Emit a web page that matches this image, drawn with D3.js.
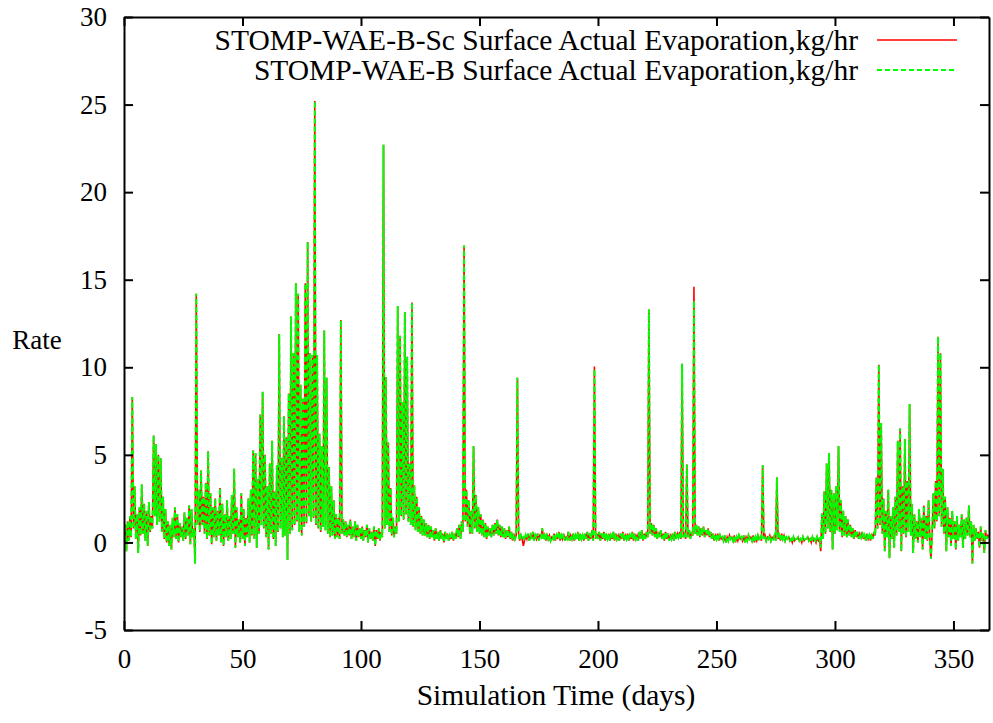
<!DOCTYPE html>
<html>
<head>
<meta charset="utf-8">
<script src="https://cdn.jsdelivr.net/npm/d3@7"></script>
<style>
  body { margin: 0; background: #fff; }
  .axis path, .axis line { stroke: #000; stroke-width: 2px; }
  .sc-line { fill: none; stroke: #ff0000; stroke-width: 1.6px; }
  .b-line { fill: none; stroke: #00ff00; stroke-width: 2px; stroke-dasharray: 5,3; }
</style>
</head>
<body>
<script>
var font_name = "'Liberation Serif'";

// Series labels
var series_names = [
  'STOMP-WAE-B-Sc Surface Actual Evaporation,kg/hr',
  'STOMP-WAE-B Surface Actual Evaporation,kg/hr'
];

// Tick values for both axes
var x_ticks = [0, 50, 100, 150, 200, 250, 300, 350];
var y_ticks = [-5, 0, 5, 10, 15, 20, 25, 30];

// Sample spacing in days for the rate arrays
var day_step = 0.5;

// STOMP-WAE-B rate, one value every half day (each row is 5 days)
var wae_b = [
  0.2, 1.0, -0.5, 1.2, 0.1, 1.5, 0.3, 8.3, 0.8, 3.2,        // 0
  0.2, 1.6, -0.6, 2.0, 0.4, 3.3, 0.5, 2.2, 0.1, 1.8,        // 5
  -0.2, 2.3, 0.6, 1.5, 0.8, 6.1, 1.5, 5.6, 1.0, 5.0,        // 10
  1.2, 4.8, 0.6, 2.6, 0.2, 1.9, 0.0, 1.2, -0.2, 1.0,        // 15
  -0.4, 1.4, 0.3, 2.0, 0.2, 1.6, 0.0, 1.1, 0.3, 0.9,        // 20
  0.1, 1.7, 0.2, 1.4, 0.4, 2.1, -0.1, 1.9, 0.3, 0.8,        // 25
  -1.2, 14.2, 1.0, 3.0, 0.6, 4.1, 1.0, 2.6, 0.5, 3.4,       // 30
  0.2, 5.2, 0.4, 2.8, -0.1, 2.0, 0.3, 2.5, 0.1, 1.8,        // 35
  0.4, 3.1, 0.0, 2.2, -0.2, 1.6, 0.3, 2.4, 0.1, 1.5,        // 40
  0.2, 2.7, 0.5, 4.2, -0.3, 2.0, 0.3, 1.3, 0.0, 2.8,        // 45
  0.2, 1.9, -0.2, 1.4, 0.3, 2.5, 0.0, 3.0, 0.4, 5.25,       // 50
  0.2, 5.1, -0.3, 3.6, 0.5, 7.3, 1.0, 8.6, 0.8, 5.0,        // 55
  0.3, 3.2, -0.4, 4.5, 0.5, 5.8, 0.2, 2.9, -0.2, 4.4,       // 60
  0.6, 11.9, 0.8, 4.8, 0.3, 7.2, 0.4, 6.0, -1.0, 8.5,       // 65
  0.5, 12.9, 0.7, 10.8, 1.0, 14.8, 1.2, 14.2, 0.6, 9.0,     // 70
  0.4, 8.2, 0.9, 14.8, 1.1, 17.15, 1.5, 10.8, 1.2, 10.7,    // 75
  1.4, 25.2, 1.0, 10.7, 0.8, 6.2, 0.6, 5.5, 0.9, 12.1,      // 80
  0.7, 9.4, 0.5, 4.3, 0.3, 3.2, 0.4, 2.4, 0.2, 1.6,         // 85
  0.3, 1.4, 0.2, 12.7, 0.5, 1.3, 0.4, 1.2, 0.3, 1.0,        // 90
  0.4, 1.3, 0.2, 0.9, 0.3, 1.2, 0.1, 1.0, 0.3, 0.8,         // 95
  0.2, 0.9, 0.1, 0.7, 0.3, 1.0, 0.0, 0.8, 0.2, 0.6,         // 100
  0.1, 0.9, -0.2, 0.7, 0.2, 0.8, 0.1, 0.6, 0.3, 22.7,       // 105
  0.8, 9.45, 1.0, 5.7, 0.6, 3.1, 0.4, 1.4, 0.3, 0.9,        // 110
  0.5, 13.5, 1.2, 11.8, 1.5, 8.0, 1.3, 13.15, 1.6, 10.6,    // 115
  1.2, 4.5, 1.0, 13.7, 0.9, 3.25, 0.7, 2.6, 0.6, 2.0,       // 120
  0.5, 1.5, 0.4, 1.3, 0.4, 1.1, 0.3, 1.0, 0.2, 0.9,         // 125
  0.3, 0.7, 0.1, 0.8, 0.2, 0.6, 0.1, 0.7, 0.2, 0.5,         // 130
  0.0, 0.6, 0.2, 0.5, 0.1, 0.4, 0.2, 0.6, 0.1, 0.5,         // 135
  0.2, 0.8, 0.3, 1.0, 0.2, 1.2, 0.6, 16.96, 1.2, 3.0,       // 140
  0.9, 2.4, 0.5, 1.8, 0.5, 5.5, 0.8, 2.7, 0.6, 2.0,         // 145
  0.5, 1.6, 0.4, 1.3, 0.3, 1.1, 0.2, 0.9, 0.4, 0.8,         // 150
  0.3, 1.0, 0.4, 1.1, 0.5, 1.3, 0.4, 1.0, 0.3, 0.9,         // 155
  0.3, 0.8, 0.2, 0.7, 0.3, 0.9, 0.2, 0.6, 0.1, 0.5,         // 160
  0.2, 0.4, 9.4, 0.5, 0.1, 0.4, 0.2, 0.3, 0.1, 0.4,         // 165
  0.2, 0.5, 0.1, 0.4, 0.2, 0.6, 0.1, 0.4, 0.2, 0.5,         // 170
  0.1, 0.4, 0.3, 0.8, 0.2, 0.4, 0.1, 0.5, 0.2, 0.4,         // 175
  0.1, 0.3, 0.2, 0.5, 0.1, 0.4, 0.2, 0.6, 0.1, 0.4,         // 180
  0.2, 0.5, 0.1, 0.3, 0.2, 0.6, 0.1, 0.4, 0.2, 0.5,         // 185
  0.1, 0.4, 0.2, 0.6, 0.1, 0.5, 0.2, 0.4, 0.1, 0.5,         // 190
  0.2, 0.6, 0.1, 0.5, 0.2, 0.7, 0.1, 9.9, 0.2, 0.5,         // 195
  0.2, 0.6, 0.1, 0.5, 0.2, 0.6, 0.1, 0.4, 0.2, 0.5,         // 200
  0.1, 0.4, 0.2, 0.6, 0.1, 0.5, 0.2, 0.4, 0.1, 0.5,         // 205
  0.2, 0.6, 0.1, 0.4, 0.2, 0.5, 0.1, 0.4, 0.2, 0.6,         // 210
  0.1, 0.5, 0.2, 0.4, 0.1, 0.6, 0.2, 0.7, 0.1, 0.5,         // 215
  0.2, 0.6, 0.3, 13.3, 0.5, 1.1, 0.4, 1.0, 0.3, 0.8,        // 220
  0.2, 0.6, 0.3, 0.7, 0.2, 0.5, 0.1, 0.6, 0.2, 0.5,         // 225
  0.1, 0.4, 0.2, 0.5, 0.1, 0.6, 0.2, 0.5, 0.3, 0.6,         // 230
  0.2, 10.2, 0.3, 0.6, 0.2, 4.45, 0.3, 0.7, 0.2, 0.6,       // 235
  0.4, 13.8, 0.5, 1.0, 0.4, 0.9, 0.3, 0.8, 0.4, 0.9,        // 240
  0.3, 0.7, 0.4, 0.8, 0.3, 0.6, 0.2, 0.5, 0.1, 0.4,         // 245
  0.2, 0.5, 0.1, 0.4, 0.2, 0.3, 0.1, 0.4, 0.0, 0.3,         // 250
  0.1, 0.4, 0.2, 0.3, 0.1, 0.4, 0.0, 0.3, 0.1, 0.4,         // 255
  0.2, 0.3, 0.1, 0.4, 0.0, 0.3, 0.1, 0.4, 0.2, 0.3,         // 260
  0.1, 0.4, 0.0, 0.3, 0.1, 0.4, 0.2, 0.3, 0.1, 4.4,         // 265
  0.2, 0.4, 0.1, 0.3, 0.2, 0.4, 0.1, 0.3, 0.2, 0.4,         // 270
  0.1, 3.7, 0.2, 0.4, 0.1, 0.5, 0.2, 0.4, 0.1, 0.3,         // 275
  0.2, 0.3, 0.1, 0.2, 0.0, 0.3, 0.1, 0.2, 0.2, 0.3,         // 280
  0.1, 0.2, 0.0, 0.3, 0.1, 0.2, 0.2, 0.3, 0.1, 0.2,         // 285
  0.0, 0.3, 0.1, 0.2, 0.0, 0.3, 0.1, 0.2, -0.3, 1.65,       // 290
  0.2, 2.9, 0.5, 4.5, 0.8, 5.1, 0.6, 3.0, -0.4, 2.8,        // 295
  0.5, 3.2, 0.7, 5.5, 0.6, 2.4, 0.3, 1.8, 0.4, 1.5,         // 300
  0.3, 1.3, 0.4, 1.0, 0.3, 0.8, 0.2, 0.7, 0.3, 0.6,         // 305
  0.2, 0.5, 0.3, 0.6, 0.2, 0.4, 0.1, 0.5, 0.2, 0.4,         // 310
  0.1, 0.5, 0.2, 0.6, 0.4, 3.7, 0.8, 10.15, 1.0, 6.8,       // 315
  0.5, 2.5, -0.5, 1.8, 0.3, 3.0, -0.9, 1.5, 0.2, 2.0,       // 320
  -0.3, 2.6, 0.4, 5.8, 0.6, 6.5, -0.5, 3.2, 0.5, 5.9,       // 325
  0.3, 3.5, 0.6, 7.9, 0.4, 2.2, -0.6, 1.6, 0.2, 1.2,        // 330
  0.0, 1.9, 0.3, 1.4, -0.4, 2.1, 0.2, 1.5, 0.1, 2.4,        // 335
  0.3, -0.95, 0.5, 2.8, 0.8, 3.5, 1.2, 11.75, 1.5, 10.8,    // 340
  0.9, 4.2, 0.5, 2.6, -0.5, 2.0, 0.3, 1.4, -0.2, 1.8,       // 345
  0.2, 1.2, -0.4, 1.5, 0.1, 1.0, 0.3, 1.6, -0.3, 1.3,       // 350
  0.2, 1.4, 0.4, 2.1, 0.3, 1.2, -1.2, 1.0, 0.1, 0.8,        // 355
  0.2, 0.6, -0.3, 0.9, 0.1, 0.5, -0.6, 0.7, 0.2, 0.4,       // 360
  0.3                                                       // 365
];

// STOMP-WAE-B-Sc follows the same curve except at these [day, rate] samples
var sc_diff = [[168.5, -0.2], [198.5, 10.05], [240.5, 14.6], [294, -0.5]];

// Build the [day, rate] points for both series
var b_points = wae_b.map(function(v, i) { return [i * day_step, v]; });
var sc_points = b_points.map(function(p) { return [p[0], p[1]]; });
for (var k = 0; k < sc_diff.length; k++) {
  sc_points[Math.round(sc_diff[k][0] / day_step)][1] = sc_diff[k][1];
}

// SVG size and plot box
var svg_width = 993;
var svg_height = 723;
var plot_left = 124;
var plot_right = 989;
var plot_top = 17;
var plot_bottom = 630;
var tick_len = 9;
var tick_font = '27px';
var label_font = '29.5px';

var svg = d3.select('body').append('svg')
  .attr('width', svg_width)
  .attr('height', svg_height);

var x = d3.scaleLinear().domain([0, 365]).range([plot_left, plot_right]);
var y = d3.scaleLinear().domain([-5, 30]).range([plot_bottom, plot_top]);

// Clip the curves to the plot box
svg.append('clipPath').attr('id', 'plot-clip')
  .append('rect')
  .attr('x', plot_left).attr('y', plot_top)
  .attr('width', plot_right - plot_left).attr('height', plot_bottom - plot_top);

var line = d3.line()
  .x(function(d) { return x(d[0]); })
  .y(function(d) { return y(d[1]); });

svg.append('path')
  .datum(sc_points)
  .attr('class', 'sc-line')
  .attr('clip-path', 'url(#plot-clip)')
  .attr('d', line);

svg.append('path')
  .datum(b_points)
  .attr('class', 'b-line')
  .attr('clip-path', 'url(#plot-clip)')
  .attr('d', line);

// Plain hyphen for negatives, like the original
var plain = function(d) { return String(d); };

// Axes: ticks point inward on all four sides
var axes = [
  svg.append('g')
    .attr('transform', 'translate(0,' + plot_bottom + ')')
    .call(d3.axisBottom(x).tickValues(x_ticks).tickFormat(plain).tickSize(-tick_len).tickSizeOuter(0).tickPadding(19)),
  svg.append('g')
    .attr('transform', 'translate(0,' + plot_top + ')')
    .call(d3.axisTop(x).tickValues(x_ticks).tickSize(-tick_len).tickSizeOuter(0).tickFormat('')),
  svg.append('g')
    .attr('transform', 'translate(' + plot_left + ',0)')
    .call(d3.axisLeft(y).tickValues(y_ticks).tickFormat(plain).tickSize(-tick_len).tickSizeOuter(0).tickPadding(17)),
  svg.append('g')
    .attr('transform', 'translate(' + plot_right + ',0)')
    .call(d3.axisRight(y).tickValues(y_ticks).tickSize(-tick_len).tickSizeOuter(0).tickFormat(''))
];
axes.forEach(function(g) {
  g.attr('class', 'axis');
  g.selectAll('text')
    .attr('fill', '#000')
    .style('font-family', font_name)
    .style('font-size', tick_font);
});

// Axis titles
svg.append('text')
  .attr('x', 556)
  .attr('y', 705)
  .attr('text-anchor', 'middle')
  .style('font-family', font_name)
  .style('font-size', label_font)
  .text('Simulation Time (days)');

svg.append('text')
  .attr('x', 37)
  .attr('y', 349)
  .attr('text-anchor', 'middle')
  .style('font-family', font_name)
  .style('font-size', tick_font)
  .text('Rate');

// Legend in the top right corner
var legend_rows = [40, 70];
var legend_class = ['sc-line', 'b-line'];

svg.selectAll('text.legend-text')
  .data(series_names)
  .enter()
  .append('text')
  .attr('class', 'legend-text')
  .attr('x', 858)
  .attr('y', function(d, i) { return legend_rows[i] + 10; })
  .attr('text-anchor', 'end')
  .style('font-family', font_name)
  .style('font-size', label_font)
  .text(function(d) { return d; });

svg.selectAll('line.legend-line')
  .data(legend_class)
  .enter()
  .append('line')
  .attr('class', function(d) { return 'legend-line ' + d; })
  .attr('x1', 877)
  .attr('x2', 957)
  .attr('y1', function(d, i) { return legend_rows[i]; })
  .attr('y2', function(d, i) { return legend_rows[i]; });
</script>
</body>
</html>
